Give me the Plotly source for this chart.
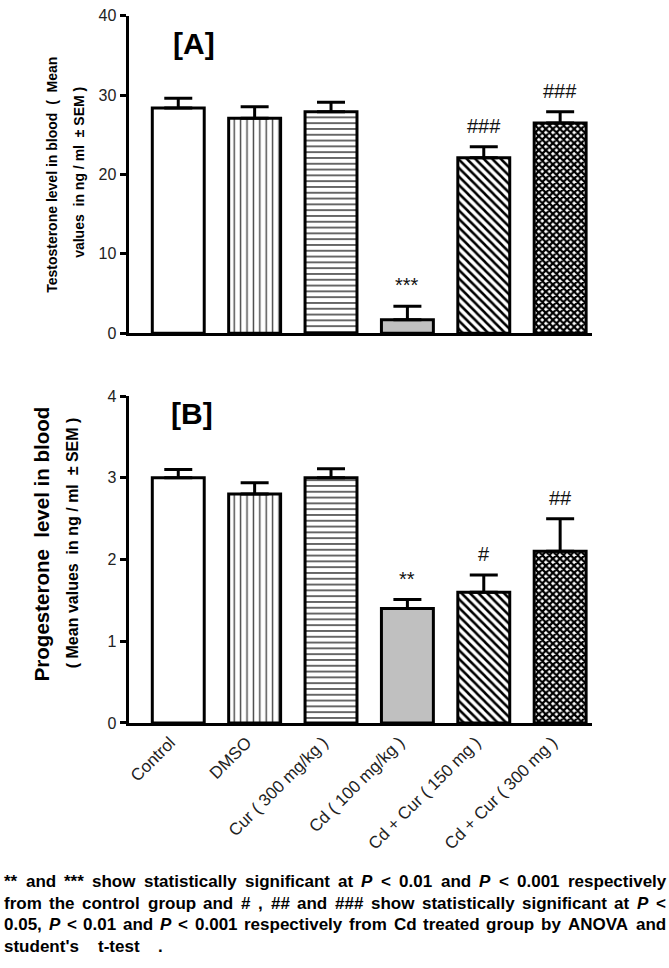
import plotly.graph_objects as go

# ---------------- data ----------------
categories = ["Control", "DMSO", "Cur ( 300 mg/kg )", "Cd ( 100 mg/kg )",
              "Cd + Cur ( 150 mg )", "Cd + Cur ( 300 mg )"]
testo_mean = [28.4, 27.1, 27.9, 1.7, 22.1, 26.5]
testo_sem = [1.2, 1.45, 1.2, 1.7, 1.4, 1.4]
testo_sig = ["", "", "", "***", "###", "###"]
prog_mean = [3.0, 2.8, 3.0, 1.4, 1.6, 2.1]
prog_sem = [0.1, 0.14, 0.11, 0.11, 0.21, 0.4]
prog_sig = ["", "", "", "**", "#", "##"]

footnote_lines = [
    "** and *** show statistically significant at P < 0.01 and P < 0.001 respectively",
    "from the control group and # , ## and ### show statistically significant at P <",
    "0.05, P < 0.01 and P < 0.001 respectively from Cd treated group by ANOVA and",
    "student's t-test .",
]

# ---------------- styling ----------------
W, H = 669, 968
FONT = "Liberation Sans, Arial, sans-serif"
fills = ["white", "white", "white", "#c0c0c0", "white", "white"]
shapes = ["", "|", "-", "", "\\", "x"]
fgcols = ["black", "#444444", "#333333", "black", "black", "black"]
psizes = [6, 6.4, 5.8, 6, 6, 5]
psol = [0.3, 0.22, 0.25, 0.3, 0.42, 0.7]


def px_x(px):
    return px / W


def px_y(py):
    return 1 - py / H


fig = go.Figure()
for means, sems, xa, ya in [(testo_mean, testo_sem, "x", "y"),
                            (prog_mean, prog_sem, "x2", "y2")]:
    for i, cat in enumerate(categories):
        mk = dict(color=fills[i], line=dict(color="black", width=3))
        if shapes[i]:
            mk["pattern"] = dict(shape=shapes[i], fgcolor=fgcols[i], bgcolor=fills[i],
                                 size=psizes[i], solidity=psol[i], fillmode="replace")
        fig.add_trace(go.Bar(
            x=[cat], y=[means[i]], xaxis=xa, yaxis=ya, width=0.68, marker=mk,
            error_y=dict(type="data", symmetric=False, array=[sems[i]], arrayminus=[0],
                         color="black", thickness=3, width=14),
            showlegend=False, hoverinfo="x+y",
        ))

xdom = [px_x(127), px_x(592)]
common_x = dict(domain=xdom, range=[-0.65, 5.42], showline=True, linecolor="black",
                linewidth=3, showgrid=False, zeroline=False, ticks="", fixedrange=True)
common_y = dict(showline=True, linecolor="black", linewidth=3, showgrid=False,
                zeroline=False, ticks="outside", ticklen=6, tickwidth=2.5,
                tickcolor="black", tickfont=dict(family=FONT, size=16, color="#222"),
                fixedrange=True)

fig.update_layout(
    width=W, height=H, paper_bgcolor="white", plot_bgcolor="white",
    margin=dict(l=0, r=0, t=0, b=0), barmode="overlay",
    font=dict(family=FONT, color="black"),
    xaxis=dict(**common_x, anchor="y", showticklabels=False),
    yaxis=dict(**common_y, anchor="x", domain=[px_y(331), px_y(8)], range=[0, 40], dtick=10),
    xaxis2=dict(**common_x, anchor="y2", showticklabels=True, tickangle=-45,
                ticklabelshift=-8,
                tickfont=dict(family=FONT, size=17, color="#222")),
    yaxis2=dict(**common_y, anchor="x2", domain=[px_y(727.7), px_y(395)], range=[0, 4], dtick=1),
)

ann = []
# significance marks
for sig, means, sems, xr, yr in [(testo_sig, testo_mean, testo_sem, "x", "y"),
                                 (prog_sig, prog_mean, prog_sem, "x2", "y2")]:
    for i, s in enumerate(sig):
        if s:
            ann.append(dict(x=categories[i], y=means[i] + sems[i], xref=xr, yref=yr,
                            text=s, showarrow=False, xanchor="center", yanchor="bottom",
                            yshift=8, font=dict(family=FONT, size=20, color="#111")))


def paper_text(x, y, text, size, angle=0, xanchor="center", yanchor="middle"):
    return dict(x=px_x(x), y=px_y(y), xref="paper", yref="paper", text=text,
                textangle=angle, showarrow=False, xanchor=xanchor, yanchor=yanchor,
                font=dict(family=FONT, size=size, color="black"))


# panel labels
ann.append(paper_text(170, 36, "<b>[A]</b>", 30, xanchor="left"))
ann.append(paper_text(167, 413, "<b>[B]</b>", 30, xanchor="left"))

# y axis titles
ann.append(paper_text(50, 170, "<b>Testosterone level in blood  (  Mean</b>", 14, -90))
ann.append(paper_text(77, 167, "<b>values  in ng / ml  ± SEM )</b>", 14, -90))
ann.append(paper_text(40, 545, "<b>Progesterone  level in blood</b>", 20.5, -90))
ann.append(paper_text(71, 544, "<b>( Mean values  in ng / ml  ± SEM )</b>", 16, -90))

# footnote, justified word by word (Arial Bold advance widths per 1000 em)
AW = {' ': 278, '*': 389, '#': 556, ',': 278, '.': 278, '<': 584, "'": 238, '-': 333,
      'A': 722, 'C': 722, 'N': 722, 'O': 778, 'P': 667, 'V': 667}
for c in "0123456789":
    AW[c] = 556
AW.update(dict(a=556, b=611, c=556, d=611, e=556, f=333, g=611, h=611, i=278, j=278,
               k=556, l=278, m=889, n=611, o=611, p=611, q=611, r=389, s=556, t=333,
               u=611, v=556, w=778, x=556, y=556, z=500))
FS = 17


def wwidth(word):
    return sum(AW.get(c, 556) for c in word) * FS / 1000.0


line_y = [889, 911, 933, 955]
targets = [665, 665, 665, 160]
for li, line in enumerate(footnote_lines):
    words = line.split(" ")
    widths = [wwidth(w) for w in words]
    gap = (targets[li] - 1 - sum(widths)) / (len(words) - 1)
    xpos = 1.0
    for w, wd in zip(words, widths):
        txt = "<b><i>P</i></b>" if w == "P" else "<b>" + w + "</b>"
        ann.append(dict(x=px_x(xpos), y=px_y(line_y[li]), xref="paper", yref="paper",
                        text=txt, showarrow=False, xanchor="left", yanchor="middle",
                        borderpad=0, font=dict(family=FONT, size=FS, color="black")))
        xpos += wd + gap

fig.update_layout(annotations=ann)
# remove the browser's default 8px body margin so the figure sits at the page origin
fig.write_html("out.html", config={"displayModeBar": False},
               post_script="document.body.style.margin='0';")
